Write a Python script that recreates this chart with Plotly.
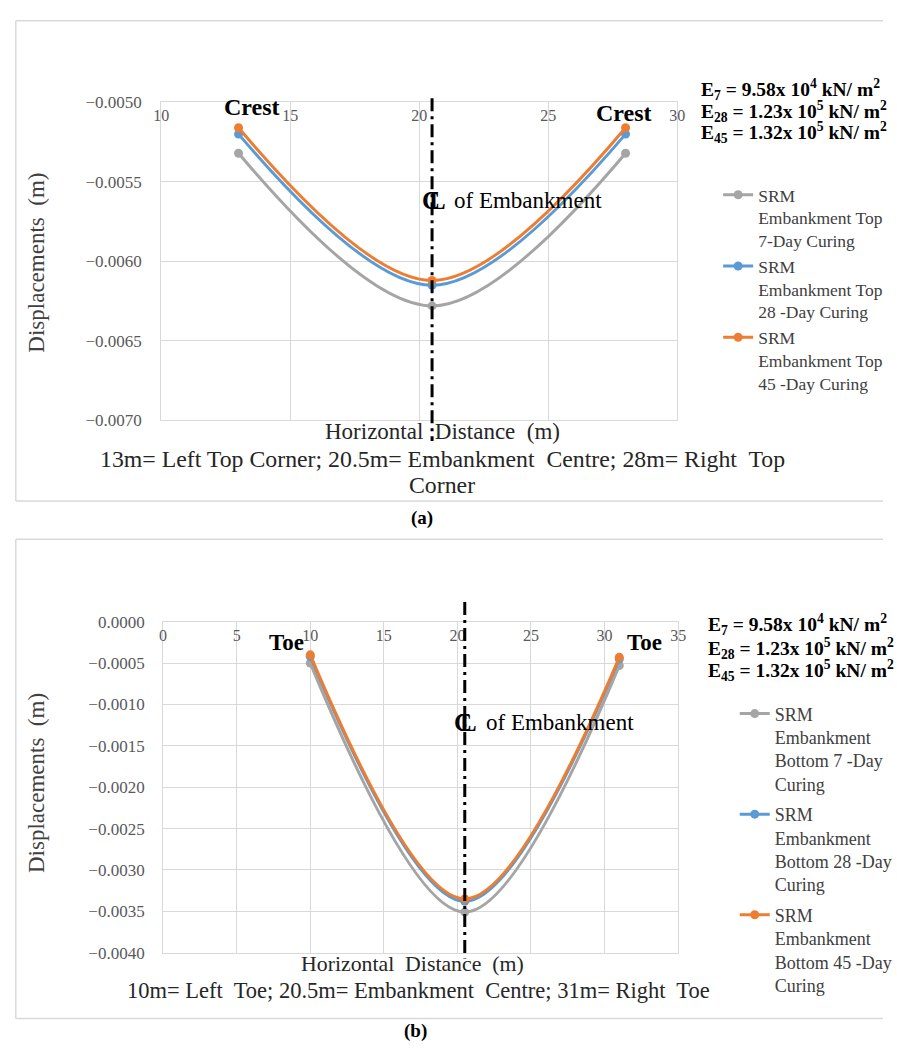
import plotly.graph_objects as go

W, H = 897, 1053

# ---------------- data ----------------
top_x = [13, 20.5, 28]
top_7 = [-0.00532, -0.00628, -0.00532]
top_28 = [-0.00520, -0.00615, -0.00520]
top_45 = [-0.00516, -0.00612, -0.00516]

bot_x = [10, 20.5, 31]
bot_7 = [-0.00050, -0.00351, -0.00053]
bot_28 = [-0.00042, -0.00338, -0.00045]
bot_45 = [-0.00040, -0.00335, -0.00043]

centre = 20.5

top_names = ["SRM<br>Embankment Top<br>7-Day Curing",
             "SRM<br>Embankment Top<br>28 -Day Curing",
             "SRM<br>Embankment Top<br>45 -Day Curing"]
bot_names = ["SRM<br>Embankment<br>Bottom 7 -Day<br>Curing",
             "SRM<br>Embankment<br>Bottom 28 -Day<br>Curing",
             "SRM<br>Embankment<br>Bottom 45 -Day<br>Curing"]
colors = ["#A5A5A5", "#5B9BD5", "#ED7D31"]

top_x_ticks = [10, 15, 20, 25, 30]
top_y_ticks = [-0.0050, -0.0055, -0.0060, -0.0065, -0.0070]
bot_x_ticks = [0, 5, 10, 15, 20, 25, 30, 35]
bot_y_ticks = [0.0, -0.0005, -0.0010, -0.0015, -0.0020, -0.0025, -0.0030, -0.0035, -0.0040]

e_lines = ["<b>E<sub>7</sub> = 9.58x 10<sup>4</sup> kN/ m<sup>2</sup></b>",
           "<b>E<sub>28</sub> = 1.23x 10<sup>5</sup> kN/ m<sup>2</sup></b>",
           "<b>E<sub>45</sub> = 1.32x 10<sup>5</sup> kN/ m<sup>2</sup></b>"]

FONT = "Liberation Serif, Times New Roman, serif"
EPS = 1e-8


def px(p):
    return p / W


def py(p):
    return 1 - p / H


fig = go.Figure()

for ys, name, c in zip([top_7, top_28, top_45], top_names, colors):
    fig.add_trace(go.Scatter(
        x=top_x, y=ys, name=name, mode="lines+markers",
        line=dict(color=c, width=3, shape="spline", smoothing=1),
        marker=dict(color=c, size=9),
        xaxis="x", yaxis="y", legend="legend", legendgroup=name))

for ys, name, c in zip([bot_7, bot_28, bot_45], bot_names, colors):
    fig.add_trace(go.Scatter(
        x=bot_x, y=ys, name=name, mode="lines+markers",
        line=dict(color=c, width=3, shape="spline", smoothing=1),
        marker=dict(color=c, size=9),
        xaxis="x2", yaxis="y2", legend="legend2", legendgroup=name))

grid = "#d9d9d9"
xtickfont = dict(family=FONT, size=16, color="#595959")
ytickfont = dict(family=FONT, size=17, color="#595959")

axis_common = dict(showgrid=True, gridcolor=grid, gridwidth=1, showline=True,
                   mirror=True, linecolor=grid, linewidth=1, zeroline=False,
                   ticks="", fixedrange=True)

fig.update_layout(
    width=W, height=H,
    margin=dict(l=0, r=0, t=0, b=0),
    paper_bgcolor="white", plot_bgcolor="white",
    font=dict(family=FONT, color="#262626"),
    xaxis=dict(domain=[px(157), px(686)], anchor="y", range=[10 - 1e-6, 30 + 1e-6],
               tickvals=top_x_ticks, side="top", ticklabelposition="inside",
               ticklabeloverflow="allow", ticklabelstandoff=8, tickfont=xtickfont,
               **axis_common),
    yaxis=dict(domain=[py(419), py(95)], anchor="x", range=[-0.0070 - EPS, -0.0050 + EPS],
               tickvals=top_y_ticks, tickformat=".4f", ticklabelstandoff=15,
               tickfont=ytickfont, **axis_common),
    xaxis2=dict(domain=[px(159), px(687)], anchor="y2", range=[0 - 1e-6, 35 + 1e-6],
                tickvals=bot_x_ticks, side="top", ticklabelposition="inside",
                ticklabeloverflow="allow", ticklabelstandoff=8, tickfont=xtickfont,
                **axis_common),
    yaxis2=dict(domain=[py(961), py(624)], anchor="x2", range=[-0.0040 - EPS, 0.0 + EPS],
                tickvals=bot_y_ticks, tickformat=".4f", ticklabelstandoff=14,
                tickfont=ytickfont, **axis_common),
    legend=dict(x=px(728), y=py(171), xanchor="left", yanchor="top",
                font=dict(family=FONT, size=17.5, color="#404040"),
                bgcolor="rgba(0,0,0,0)", valign="top", tracegroupgap=0),
    legend2=dict(x=px(745), y=py(699), xanchor="left", yanchor="top",
                 font=dict(family=FONT, size=18, color="#404040"),
                 bgcolor="rgba(0,0,0,0)", valign="top", tracegroupgap=4),
)

shapes = []
# panel frames (open on the right, as the reference is cut at the page edge)
frame = dict(color="#d9d9d9", width=1.5)
for top, bottom in [(12, 501), (540, 1028)]:
    shapes.append(dict(type="line", xref="paper", yref="paper", x0=px(8), x1=1,
                       y0=py(top), y1=py(top), line=frame))
    shapes.append(dict(type="line", xref="paper", yref="paper", x0=px(8), x1=1,
                       y0=py(bottom), y1=py(bottom), line=frame))
    shapes.append(dict(type="line", xref="paper", yref="paper", x0=px(8), x1=px(8),
                       y0=py(bottom), y1=py(top), line=frame))
# centre lines
shapes.append(dict(type="line", xref="x", yref="paper", x0=centre, x1=centre,
                   y0=py(91), y1=py(440),
                   line=dict(color="black", width=3, dash="13px,5px,3px,5px")))
shapes.append(dict(type="line", xref="x2", yref="paper", x0=centre, x1=centre,
                   y0=py(604), y1=py(967),
                   line=dict(color="black", width=3, dash="13px,5px,3px,5px")))
fig.update_layout(shapes=shapes)

ann = []


def add(text, x, y, size, xanchor="center", yanchor="middle", angle=0, color="#262626", family=FONT):
    ann.append(dict(text=text, x=px(x), y=py(y), xref="paper", yref="paper",
                    xanchor=xanchor, yanchor=yanchor, showarrow=False, textangle=angle,
                    font=dict(family=family, size=size, color=color)))


# axis titles
add("Displacements  (m)", 29, 258, 23, angle=-90, color="#404040")
add("Displacements  (m)", 29, 788, 23, angle=-90, color="#404040")
add("Horizontal  Distance  (m)", 445, 430, 23)
add("13m= Left Top Corner; 20.5m= Embankment  Centre; 28m= Right  Top", 445, 458, 23.8)
add("Corner", 445, 485, 23.8)
add("Horizontal  Distance  (m)", 415, 973, 21.8)
add("10m= Left  Toe; 20.5m= Embankment  Centre; 31m= Right  Toe", 421, 1000, 22.5)
add("<b>(a)</b>", 424, 518, 19, color="black")
add("<b>(b)</b>", 418, 1041, 19, color="black")

# labels
add("<b>Crest</b>", 250, 100, 24, color="black")
add("<b>Crest</b>", 631, 106, 24, color="black")
add("<b>Toe</b>", 285, 645, 23, color="black")
add("<b>Toe</b>", 652, 645, 23, color="black")

# centre line symbols (C overlaid with L) and labels
for cx, cy in [(436, 195), (468, 727)]:
    add("<b>C</b>", cx - 2, cy, 25, color="black")
    add("<b>L</b>", cx + 4, cy, 25, color="black")
add("of Embankment", 455, 195, 23, xanchor="left", color="black")
add("of Embankment", 488, 727, 23, xanchor="left", color="black")

# E values
for i, t in enumerate(e_lines):
    add(t, 708, [82, 104, 126][i], 19.5, xanchor="left", color="black")
    add(t, 716, [627, 651, 674][i], 19.5, xanchor="left", color="black")

fig.update_layout(annotations=ann)

fig.write_html("out.html", config={"displayModeBar": False},
               post_script="document.body.style.margin='0';document.body.style.overflow='hidden';")
